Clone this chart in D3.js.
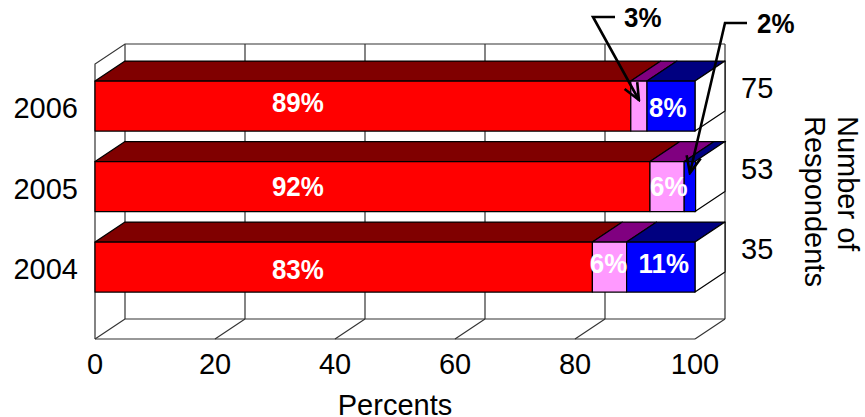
<!DOCTYPE html>
<html>
<head>
<meta charset="utf-8">
<script src="https://cdn.jsdelivr.net/npm/d3@7"></script>
<style>
    html, body { margin: 0; padding: 0; background: #fff; overflow: hidden; }
    text { font-family: "Liberation Sans", Arial, sans-serif; }
</style>
</head>
<body>
<div id="chart"></div>
<script>
// Data
const years = ['2006', '2005', '2004'];
const respondents = [75, 53, 35];
const firstValues = [89.3, 92.5, 82.9];
const secondValues = [2.7, 5.7, 5.7];
const thirdValues = [8, 1.9, 11.4];
const firstLabels = ['89%', '92%', '83%'];
const secondLabels = ['3%', '6%', '6%'];
const thirdLabels = ['8%', '2%', '11%'];
const xTicks = [0, 20, 40, 60, 80, 100];

const frontColors = ['#ff0000', '#ff99ff', '#0000ff'];
const topColors = ['#800000', '#800080', '#000080'];

const width = 865, height = 417;
const depthX = 30, depthY = -20;       // fake 3D offset
const plotTop = 64, plotBottom = 339;
const gridColor = '#333';
const axisFont = 29, labelFont = 27;

// hand placement of the labels inside the bars: [dx from segment middle, dy from bar middle]
const labelNudge = {
    '2006-0': [0, 6.3], '2006-2': [-3.3, 11],
    '2005-0': [0, 9.2], '2005-1': [1.6, 9],
    '2004-0': [0, 12], '2004-1': [-1, 6.3], '2004-2': [3, 6.3]
};

const svg = d3.select('#chart').append('svg')
    .attr('width', width)
    .attr('height', height)
    .style('display', 'block');

const x = d3.scaleLinear().domain([0, 100]).range([95, 695]);
const y = d3.scaleBand()
    .domain(years)
    .range([65.8, 307.3])
    .paddingInner(0.379)
    .paddingOuter(0.1895);

const rows = years.map((year, i) => {
    const vals = [firstValues[i], secondValues[i], thirdValues[i]];
    const labs = [firstLabels[i], secondLabels[i], thirdLabels[i]];
    let sum = 0;
    return {
        year,
        segs: vals.map((v, k) => {
            const seg = { k, x0: sum, x1: sum + v, label: labs[k], year };
            sum += v;
            return seg;
        })
    };
});

// Walls and floor
const walls = svg.append('g')
    .attr('fill', 'none')
    .attr('stroke', gridColor)
    .attr('stroke-width', 1.2);

walls.selectAll('.grid')
    .data(xTicks)
    .enter()
    .append('line')
    .attr('class', 'grid')
    .attr('x1', d => x(d) + depthX)
    .attr('x2', d => x(d) + depthX)
    .attr('y1', plotTop + depthY)
    .attr('y2', plotBottom + depthY);

walls.selectAll('.floor')
    .data(xTicks)
    .enter()
    .append('line')
    .attr('class', 'floor')
    .attr('x1', d => x(d))
    .attr('x2', d => x(d) + depthX)
    .attr('y1', plotBottom)
    .attr('y2', plotBottom + depthY);

walls.append('path')
    .attr('d', d3.line()([
        [x(0), plotBottom], [x(0), plotTop], [x(0) + depthX, plotTop + depthY], [x(100) + depthX, plotTop + depthY]
    ]));
walls.append('line')
    .attr('x1', x(0)).attr('x2', x(100))
    .attr('y1', plotBottom).attr('y2', plotBottom);
walls.append('line')
    .attr('x1', x(0) + depthX).attr('x2', x(100) + depthX)
    .attr('y1', plotBottom + depthY).attr('y2', plotBottom + depthY);

// Bars: top face, right face, front face
const bars = svg.selectAll('.row')
    .data(rows)
    .enter()
    .append('g')
    .attr('class', 'row')
    .attr('stroke', '#000')
    .attr('stroke-width', 1.2)
    .attr('stroke-linejoin', 'round');

const poly = d3.line();

bars.selectAll('.top')
    .data(d => d.segs)
    .enter()
    .append('path')
    .attr('class', 'top')
    .attr('fill', d => topColors[d.k])
    .attr('d', d => {
        const y0 = y(d.year);
        return poly([
            [x(d.x0), y0], [x(d.x0) + depthX, y0 + depthY],
            [x(d.x1) + depthX, y0 + depthY], [x(d.x1), y0]
        ]) + 'Z';
    });

bars.append('path')
    .attr('fill', '#fff')
    .attr('d', d => {
        const y0 = y(d.year), y1 = y0 + y.bandwidth();
        return poly([
            [x(100), y0], [x(100) + depthX, y0 + depthY],
            [x(100) + depthX, y1 + depthY], [x(100), y1]
        ]) + 'Z';
    });

bars.selectAll('.front')
    .data(d => d.segs)
    .enter()
    .append('rect')
    .attr('class', 'front')
    .attr('x', d => x(d.x0))
    .attr('y', d => y(d.year))
    .attr('width', d => x(d.x1) - x(d.x0))
    .attr('height', y.bandwidth())
    .attr('fill', d => frontColors[d.k]);

// Labels inside the bars; the red one sits at a fixed spot, not mid-bar
const insideLabels = rows.flatMap(r => r.segs)
    .filter(d => labelNudge[`${d.year}-${d.k}`]);

svg.selectAll('.inside')
    .data(insideLabels)
    .enter()
    .append('text')
    .attr('class', 'inside')
    .attr('transform', d => {
        const [dx, dy] = labelNudge[`${d.year}-${d.k}`];
        const cx = d.k === 0 ? x(33.8) : x((d.x0 + d.x1) / 2) + dx;
        return `translate(${cx},${y(d.year) + y.bandwidth() / 2 + dy}) scale(0.96,1)`;
    })
    .attr('text-anchor', 'middle')
    .attr('fill', '#fff')
    .attr('font-size', labelFont)
    .attr('font-weight', 'bold')
    .text(d => d.label);

// Axes
const xAxis = svg.append('g')
    .attr('transform', `translate(0,${plotBottom + 14})`)
    .call(d3.axisBottom(x).tickValues(xTicks).tickSize(0).tickPadding(0).offset(0).tickFormat(d3.format('d')));
const leftAxis = svg.append('g')
    .attr('transform', 'translate(95,3)')
    .call(d3.axisLeft(y).tickSize(0).tickPadding(17).offset(0));
const rightAxis = svg.append('g')
    .attr('transform', `translate(${x(100) + depthX},-17)`)
    .call(d3.axisRight(y).tickSize(0).tickPadding(16).offset(0).tickFormat((d, i) => respondents[i]));

[xAxis, leftAxis, rightAxis].forEach(a => {
    a.select('.domain').remove();
    a.selectAll('text')
        .attr('font-size', axisFont)
        .attr('fill', '#000')
        .style('font-family', '"Liberation Sans", Arial, sans-serif');
});

svg.append('text')
    .attr('x', x(50))
    .attr('y', 415)
    .attr('text-anchor', 'middle')
    .attr('font-size', axisFont)
    .text('Percents');

svg.append('text')
    .attr('transform', 'translate(838,116) rotate(90)')
    .attr('font-size', axisFont)
    .text('Number of');
svg.append('text')
    .attr('transform', 'translate(805,116) rotate(90)')
    .attr('font-size', axisFont)
    .text('Respondents');

// Callouts for the two thin segments
svg.append('defs').append('marker')
    .attr('id', 'openArrow')
    .attr('viewBox', '-18 -10 20 20')
    .attr('refX', 0).attr('refY', 0)
    .attr('markerUnits', 'userSpaceOnUse')
    .attr('markerWidth', 20).attr('markerHeight', 20)
    .attr('orient', 'auto')
    .append('path')
    .attr('d', 'M-16.5,-7.2L0,0L-16.5,7.2')
    .attr('fill', 'none')
    .attr('stroke', '#000')
    .attr('stroke-width', 2.6);

const callouts = [
    { seg: rows[0].segs[1], tipY: 100, elbowX: 593, elbowY: 17, endX: 615, textX: 624, textY: 27 },
    { seg: rows[1].segs[2], tipY: 173, elbowX: 725, elbowY: 23, endX: 747, textX: 757, textY: 33 }
];

svg.selectAll('.leader')
    .data(callouts)
    .enter()
    .append('path')
    .attr('class', 'leader')
    .attr('fill', 'none')
    .attr('stroke', '#000')
    .attr('stroke-width', 2.6)
    .attr('marker-end', 'url(#openArrow)')
    .attr('d', d => poly([
        [d.endX, d.elbowY], [d.elbowX, d.elbowY],
        [x((d.seg.x0 + d.seg.x1) / 2), d.tipY]
    ]));

svg.selectAll('.callout')
    .data(callouts)
    .enter()
    .append('text')
    .attr('class', 'callout')
    .attr('transform', d => `translate(${d.textX},${d.textY}) scale(0.96,1)`)
    .attr('font-size', labelFont)
    .attr('font-weight', 'bold')
    .text(d => d.seg.label);
</script>
</body>
</html>
